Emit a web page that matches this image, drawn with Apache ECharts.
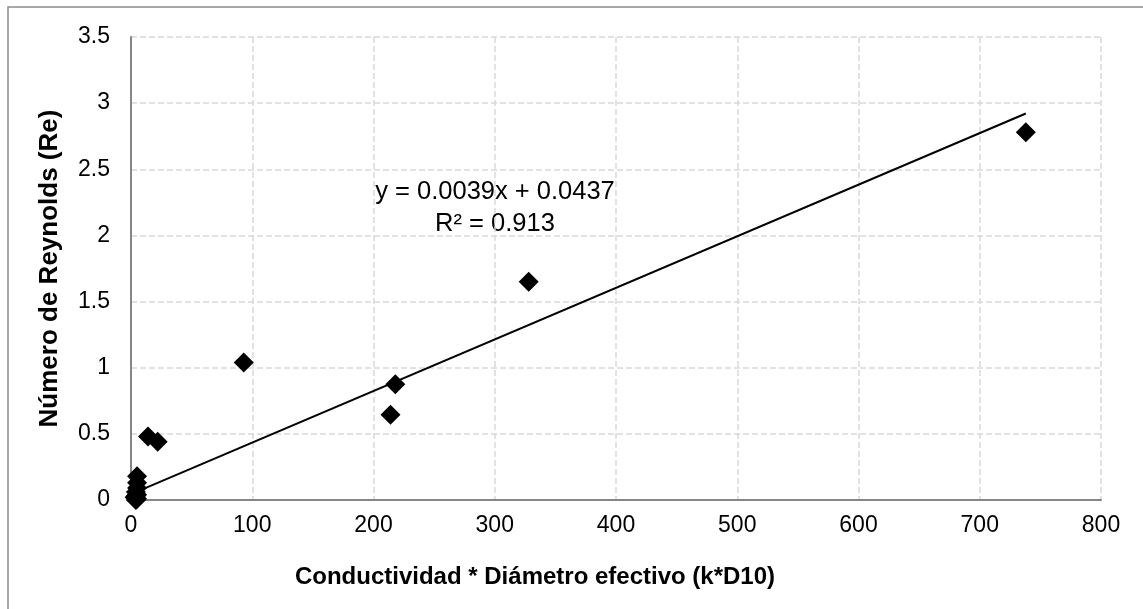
<!DOCTYPE html>
<html>
<head>
<meta charset="utf-8">
<script src="https://cdn.jsdelivr.net/npm/echarts@6/dist/echarts.min.js"></script>
<style>
  html, body { margin: 0; padding: 0; background: #fff; }
  #chart { width: 1143px; height: 609px; }
</style>
</head>
<body>
<div id="chart"></div>
<script>
// datos
var kD10 = [738, 328, 93, 218, 214, 14, 22, 5, 5, 5, 4, 5, 4, 3, 5, 4];
var reynolds = [2.78, 1.65, 1.04, 0.875, 0.645, 0.48, 0.44, 0.18, 0.13, 0.09, 0.06, 0.04, 0.03, 0.02, 0.01, 0.0];

// linea de tendencia (Excel)
var pendiente = 0.0039;
var intercepto = 0.0437;
var r2 = 0.913;

var puntos = [];
for (var i = 0; i < kD10.length; i++) {
    puntos.push([kD10[i], reynolds[i]]);
}
var xMin = Math.min.apply(null, kD10);
var xMax = Math.max.apply(null, kD10);
var tendencia = [
    [xMin, pendiente * xMin + intercepto],
    [xMax, pendiente * xMax + intercepto]
];

var fuente = 'Liberation Sans, Arial, sans-serif';
var myChart = echarts.init(document.getElementById('chart'));

option = {
    animation: false,
    backgroundColor: '#fff',
    grid: {
        left: 131,
        right: 42,
        top: 37,
        bottom: 109
    },
    xAxis: {
        type: 'value',
        min: 0,
        max: 800,
        interval: 100,
        axisLine: { lineStyle: { color: '#868686', width: 2 } },
        axisTick: { show: false },
        axisLabel: { fontFamily: fuente, fontSize: 23, color: '#000', margin: 14 },
        splitLine: { show: true, lineStyle: { color: '#d9d9d9', type: [6, 3], width: 1.5 } }
    },
    yAxis: {
        type: 'value',
        min: 0,
        max: 3.5,
        interval: 0.5,
        name: 'Número de Reynolds (Re)',
        nameLocation: 'middle',
        nameGap: 68,
        nameTextStyle: { fontFamily: fuente, fontSize: 26, fontWeight: 'bold', color: '#000' },
        axisLine: { show: true, lineStyle: { color: '#868686', width: 2 } },
        axisTick: { show: false },
        axisLabel: { fontFamily: fuente, fontSize: 23, color: '#000', margin: 21 },
        splitLine: { show: true, lineStyle: { color: '#d9d9d9', type: [6, 3], width: 1.5 } }
    },
    graphic: [
        {
            type: 'rect',
            shape: { x: 8, y: 7, width: 1300, height: 800 },
            style: { fill: 'none', stroke: '#8c8c8c', lineWidth: 1.5 },
            silent: true
        },
        {
            // titulo del eje x
            type: 'text',
            x: 535,
            y: 577,
            style: {
                text: 'Conductividad * Diámetro efectivo (k*D10)',
                fontFamily: fuente,
                fontSize: 24,
                fontWeight: 'bold',
                fill: '#000',
                align: 'center',
                verticalAlign: 'middle'
            }
        },
        {
            type: 'text',
            x: 495,
            y: 192,
            style: {
                text: 'y = ' + pendiente + 'x + ' + intercepto,
                fontFamily: fuente,
                fontSize: 25.5,
                fill: '#000',
                align: 'center',
                verticalAlign: 'middle'
            }
        },
        {
            type: 'text',
            x: 495,
            y: 224,
            style: {
                text: 'R² = ' + r2,
                fontFamily: fuente,
                fontSize: 25.5,
                fill: '#000',
                align: 'center',
                verticalAlign: 'middle'
            }
        }
    ],
    series: [
        {
            type: 'line',
            data: tendencia,
            symbol: 'none',
            lineStyle: { color: '#000', width: 2 },
            silent: true,
            z: 2
        },
        {
            type: 'scatter',
            data: puntos,
            symbol: 'diamond',
            symbolSize: 20,
            itemStyle: { color: '#000', opacity: 1 },
            z: 3
        }
    ]
};

myChart.setOption(option);
</script>
</body>
</html>
